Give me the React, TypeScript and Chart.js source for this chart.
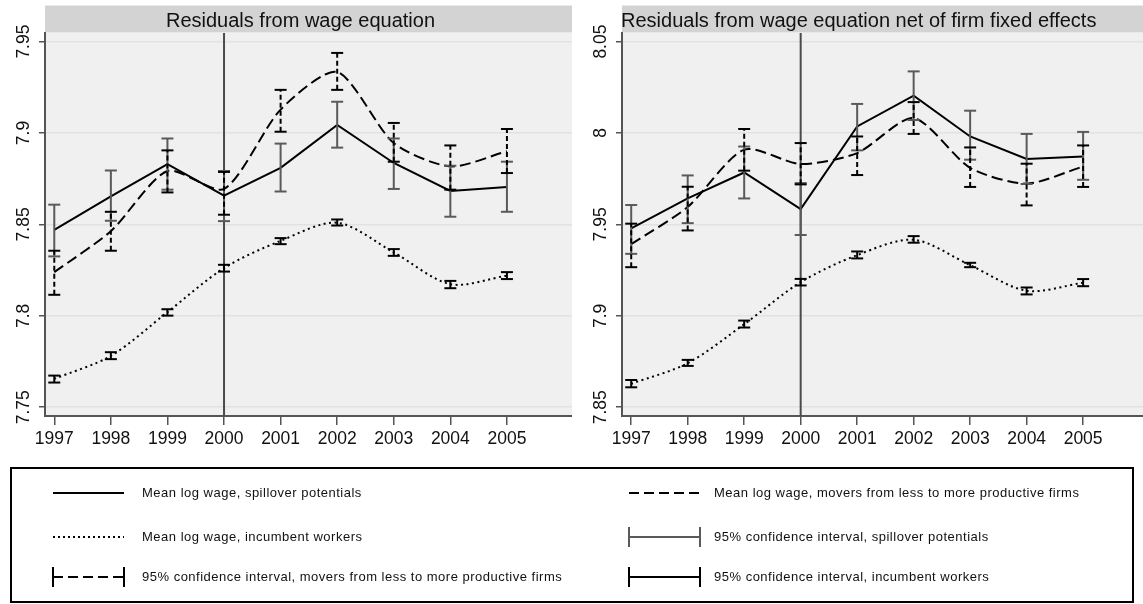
import React, { useEffect, useRef } from "react";
import { Chart, registerables } from "chart.js";

Chart.register(...registerables);

const FONT = '"Liberation Sans", Arial, Helvetica, sans-serif';

// ---------- data ----------
const years = [1997, 1998, 1999, 2000, 2001, 2002, 2003, 2004, 2005];

// Panel 1: Residuals from wage equation
const spillL = [7.847, 7.8653, 7.883, 7.8657, 7.8809, 7.9044, 7.8836, 7.8683, 7.8705];
const spillLLo = [7.8325, 7.852, 7.869, 7.8518, 7.868, 7.892, 7.8694, 7.8542, 7.8569];
const spillLHi = [7.8608, 7.8795, 7.897, 7.8792, 7.8942, 7.9171, 7.897, 7.8821, 7.8843];
const moversL = [7.8239, 7.8463, 7.8792, 7.8694, 7.9128, 7.9334, 7.8945, 7.8817, 7.89];
const moversLLo = [7.8115, 7.8356, 7.8675, 7.8553, 7.9007, 7.9236, 7.8843, 7.869, 7.8781];
const moversLHi = [7.8356, 7.8569, 7.8905, 7.8787, 7.9236, 7.9438, 7.9055, 7.8932, 7.9022];
const incumbL = [7.7655, 7.7781, 7.802, 7.8261, 7.841, 7.8509, 7.8347, 7.8173, 7.822];
const incumbLLo = [7.7635, 7.7763, 7.8001, 7.8242, 7.8392, 7.8494, 7.8328, 7.8151, 7.8201];
const incumbLHi = [7.7673, 7.7801, 7.8036, 7.8279, 7.8425, 7.8527, 7.8365, 7.8191, 7.8239];

// Panel 2: Residuals net of firm fixed effects
const spillR = [7.9478, 7.9642, 7.9784, 7.9584, 8.0036, 8.0204, 7.9981, 7.9858, 7.9872];
const spillRLo = [7.9339, 7.9507, 7.9642, 7.9442, 7.9905, 8.0071, 7.9854, 7.9721, 7.9744];
const spillRHi = [7.9606, 7.9768, 7.9926, 7.9726, 8.0159, 8.0337, 8.0122, 7.9995, 8.0006];
const moversR = [7.9392, 7.9595, 7.9909, 7.983, 7.989, 8.0082, 7.9809, 7.9723, 7.9817];
const moversRLo = [7.9266, 7.9467, 7.9794, 7.9719, 7.977, 7.9995, 7.9705, 7.9604, 7.9705];
const moversRHi = [7.9504, 7.9706, 8.0022, 7.9945, 7.9981, 8.0169, 7.9921, 7.9832, 7.9932];
const incumbR = [7.8628, 7.8741, 7.8954, 7.9184, 7.9332, 7.9416, 7.9277, 7.9137, 7.9181];
const incumbRLo = [7.8609, 7.8726, 7.8936, 7.9166, 7.9314, 7.94, 7.9266, 7.9117, 7.9162];
const incumbRHi = [7.8649, 7.8759, 7.8974, 7.9202, 7.9352, 7.9436, 7.929, 7.9155, 7.9201];

const yTicksL = [7.75, 7.8, 7.85, 7.9, 7.95];
const yTicksR = [7.85, 7.9, 7.95, 8, 8.05];
const yTickLabelsL = ["7.75", "7.8", "7.85", "7.9", "7.95"];
const yTickLabelsR = ["7.85", "7.9", "7.95", "8", "8.05"];
const refYear = 2000;

const titleL = "Residuals from wage equation";
const titleR = "Residuals from wage equation net of firm fixed effects";

const legendLabels = [
  "Mean log wage, spillover potentials",
  "Mean log wage, movers from less to more productive firms",
  "Mean log wage, incumbent workers",
  "95% confidence interval, spillover potentials",
  "95% confidence interval, movers from less to more productive firms",
  "95% confidence interval, incumbent workers",
];

// ---------- helpers ----------
function lineData(vals: number[]) {
  return years.map((x, i) => ({ x, y: vals[i] }));
}
function ciData(lo: number[], hi: number[]) {
  const out: any[] = [];
  years.forEach((x, i) => {
    out.push({ x, y: lo[i] }, { x, y: hi[i] }, { x, y: null });
  });
  return out;
}

type PanelProps = {
  left: number;
  width: number;
  height: number;
  title: string;
  titleMode: "center" | "left";
  xMin: number;
  xMax: number;
  yMin: number;
  yMax: number;
  yTicks: number[];
  yTickLabels: string[];
  spill: number[];
  spillLo: number[];
  spillHi: number[];
  movers: number[];
  moversLo: number[];
  moversHi: number[];
  incumb: number[];
  incumbLo: number[];
  incumbHi: number[];
};

const AXIS = "#555555";
const GREY_CI = "#5a5a5a";

function Panel(p: PanelProps) {
  const ref = useRef<HTMLCanvasElement | null>(null);
  useEffect(() => {
    if (!ref.current) return;
    const plotBottom = 416;
    const decor = {
      id: "decor",
      beforeDraw(chart: any) {
        const { ctx, chartArea: a } = chart;
        ctx.save();
        ctx.fillStyle = "#f0f0f0";
        ctx.fillRect(a.left, a.top, a.right - a.left, a.bottom - a.top);
        ctx.fillStyle = "#d3d3d3";
        ctx.fillRect(a.left, 5.5, a.right - a.left, 27);
        ctx.fillStyle = "#111";
        ctx.font = `20px ${FONT}`;
        ctx.textBaseline = "alphabetic";
        if (p.titleMode === "center") {
          ctx.textAlign = "center";
          ctx.fillText(p.title, (a.left + a.right) / 2 - 8, 26.5);
        } else {
          ctx.textAlign = "left";
          ctx.fillText(p.title, a.left - 1, 26.5);
        }
        ctx.restore();
      },
      beforeDatasetsDraw(chart: any) {
        const { ctx, chartArea: a } = chart;
        const x = chart.scales.x.getPixelForValue(refYear);
        ctx.save();
        ctx.strokeStyle = "#4a4a4a";
        ctx.lineWidth = 2;
        ctx.beginPath();
        ctx.moveTo(x, a.top);
        ctx.lineTo(x, a.bottom);
        ctx.stroke();
        ctx.restore();
      },
      afterDraw(chart: any) {
        const { ctx, chartArea: a } = chart;
        const ys = chart.scales.y;
        ctx.save();
        ctx.fillStyle = "#111";
        ctx.font = `17.5px ${FONT}`;
        ctx.textAlign = "center";
        ctx.textBaseline = "alphabetic";
        p.yTicks.forEach((v, i) => {
          const y = ys.getPixelForValue(v);
          ctx.save();
          ctx.translate(a.left - 16, y);
          ctx.rotate(-Math.PI / 2);
          ctx.fillText(p.yTickLabels[i], 0, 0);
          ctx.restore();
        });
        ctx.restore();
      },
    };

    const chart = new Chart(ref.current, {
      type: "line",
      data: {
        datasets: [
          {
            label: "ciIncumb",
            data: ciData(p.incumbLo, p.incumbHi),
            borderColor: "#000",
            borderWidth: 2,
            pointStyle: "line",
            pointRadius: 6,
            pointBorderColor: "#000",
            pointBorderWidth: 2,
            spanGaps: false,
            tension: 0,
          } as any,
          {
            label: "ciMovers",
            data: ciData(p.moversLo, p.moversHi),
            borderColor: "#000",
            borderWidth: 2,
            borderDash: [5, 3],
            pointStyle: "line",
            pointRadius: 6,
            pointBorderColor: "#000",
            pointBorderWidth: 2,
            spanGaps: false,
            tension: 0,
          },
          {
            label: "ciSpill",
            data: ciData(p.spillLo, p.spillHi),
            borderColor: GREY_CI,
            borderWidth: 2,
            pointStyle: "line",
            pointRadius: 6,
            pointBorderColor: GREY_CI,
            pointBorderWidth: 2,
            spanGaps: false,
            tension: 0,
          },
          {
            label: "spill",
            data: lineData(p.spill),
            borderColor: "#000",
            borderWidth: 2,
            pointRadius: 0,
            tension: 0,
          },
          {
            label: "movers",
            data: lineData(p.movers),
            borderColor: "#000",
            borderWidth: 2,
            borderDash: [11, 5],
            pointRadius: 0,
            tension: 0.25,
          },
          {
            label: "incumb",
            data: lineData(p.incumb),
            borderColor: "#000",
            borderWidth: 2,
            borderDash: [2, 3.5],
            pointRadius: 0,
            tension: 0.3,
          },
        ],
      },
      options: {
        responsive: false,
        maintainAspectRatio: false,
        animation: false,
        devicePixelRatio: 1,
        events: [],
        layout: { autoPadding: false, padding: { top: 33, left: 0, right: 0, bottom: 0 } },
        plugins: { legend: { display: false }, tooltip: { enabled: false }, title: { display: false } },
        scales: {
          x: {
            type: "linear",
            min: p.xMin,
            max: p.xMax,
            afterBuildTicks: (s: any) => {
              s.ticks = years.map((v) => ({ value: v }));
            },
            afterFit: (s: any) => {
              s.height = p.height - plotBottom;
            },
            ticks: {
              callback: (v: any) => String(v),
              font: { family: FONT, size: 17.5 },
              color: "#111",
              padding: 4,
              autoSkip: false,
              maxRotation: 0,
              minRotation: 0,
            },
            grid: { drawOnChartArea: false, drawTicks: true, tickLength: 9, tickColor: AXIS, lineWidth: 1.5 },
            border: { display: true, color: AXIS, width: 2 },
          },
          y: {
            type: "linear",
            min: p.yMin,
            max: p.yMax,
            afterBuildTicks: (s: any) => {
              s.ticks = p.yTicks.map((v) => ({ value: v }));
            },
            afterFit: (s: any) => {
              s.width = 45;
            },
            ticks: { display: false },
            grid: { color: "#e2e2e2", lineWidth: 1.5, drawTicks: true, tickLength: 6, tickColor: AXIS, tickWidth: 1.5 },
            border: { display: true, color: AXIS, width: 2 },
          },
        },
      },
      plugins: [decor],
    } as any);
    return () => chart.destroy();
  }, []);
  return (
    <canvas
      ref={ref}
      width={p.width}
      height={p.height}
      style={{ position: "absolute", left: p.left, top: 0, width: p.width, height: p.height }}
    />
  );
}

function LegendSample({ kind, x0, x1, y }: { kind: string; x0: number; x1: number; y: number }) {
  const capH = 10;
  const color = kind === "ciGrey" ? GREY_CI : "#000";
  const dash =
    kind === "dash" || kind === "ciDash" ? "10 5" : kind === "dot" ? "2 3" : undefined;
  const caps = kind.startsWith("ci");
  return (
    <g>
      <line x1={x0} y1={y} x2={x1} y2={y} stroke={color} strokeWidth={2} strokeDasharray={dash} />
      {caps && (
        <>
          <line x1={x0} y1={y - capH} x2={x0} y2={y + capH} stroke={color} strokeWidth={2} />
          <line x1={x1} y1={y - capH} x2={x1} y2={y + capH} stroke={color} strokeWidth={2} />
        </>
      )}
    </g>
  );
}

export default function App() {
  const rowsY = [493, 537, 577];
  const colSample = [
    [53, 124],
    [629, 700],
  ];
  const colText = [142, 714];
  const kinds = ["solid", "dash", "dot", "ciGrey", "ciDash", "ciBlack"];
  return (
    <div
      style={{
        position: "absolute",
        left: 0,
        top: 0,
        width: 1143,
        height: 604,
        background: "#fff",
        overflow: "hidden",
        fontFamily: FONT,
      }}
    >
      <Panel
        left={0}
        width={572}
        height={460}
        title={titleL}
        titleMode="center"
        xMin={1996.836}
        xMax={2006.15}
        yMin={7.7452}
        yMax={7.9547}
        yTicks={yTicksL}
        yTickLabels={yTickLabelsL}
        spill={spillL}
        spillLo={spillLLo}
        spillHi={spillLHi}
        movers={moversL}
        moversLo={moversLLo}
        moversHi={moversLHi}
        incumb={incumbL}
        incumbLo={incumbLLo}
        incumbHi={incumbLHi}
      />
      <Panel
        left={577}
        width={566}
        height={460}
        title={titleR}
        titleMode="left"
        xMin={1996.837}
        xMax={2006.06}
        yMin={7.8452}
        yMax={8.0547}
        yTicks={yTicksR}
        yTickLabels={yTickLabelsR}
        spill={spillR}
        spillLo={spillRLo}
        spillHi={spillRHi}
        movers={moversR}
        moversLo={moversRLo}
        moversHi={moversRHi}
        incumb={incumbR}
        incumbLo={incumbRLo}
        incumbHi={incumbRHi}
      />
      <div
        style={{
          position: "absolute",
          left: 10,
          top: 467,
          width: 1124,
          height: 136,
          border: "2px solid #000",
          boxSizing: "border-box",
        }}
      />
      <svg
        width={1143}
        height={604}
        style={{ position: "absolute", left: 0, top: 0, pointerEvents: "none" }}
      >
        {kinds.map((k, i) => {
          const col = i % 2;
          const row = Math.floor(i / 2);
          return (
            <LegendSample key={k} kind={k} x0={colSample[col][0]} x1={colSample[col][1]} y={rowsY[row]} />
          );
        })}
      </svg>
      {legendLabels.map((t, i) => {
        const col = i % 2;
        const row = Math.floor(i / 2);
        return (
          <span
            key={t}
            style={{
              position: "absolute",
              left: colText[col],
              top: rowsY[row] - 8,
              fontSize: 13,
              lineHeight: "16px",
              letterSpacing: "0.5px",
              color: "#111",
              whiteSpace: "nowrap",
            }}
          >
            {t}
          </span>
        );
      })}
    </div>
  );
}
